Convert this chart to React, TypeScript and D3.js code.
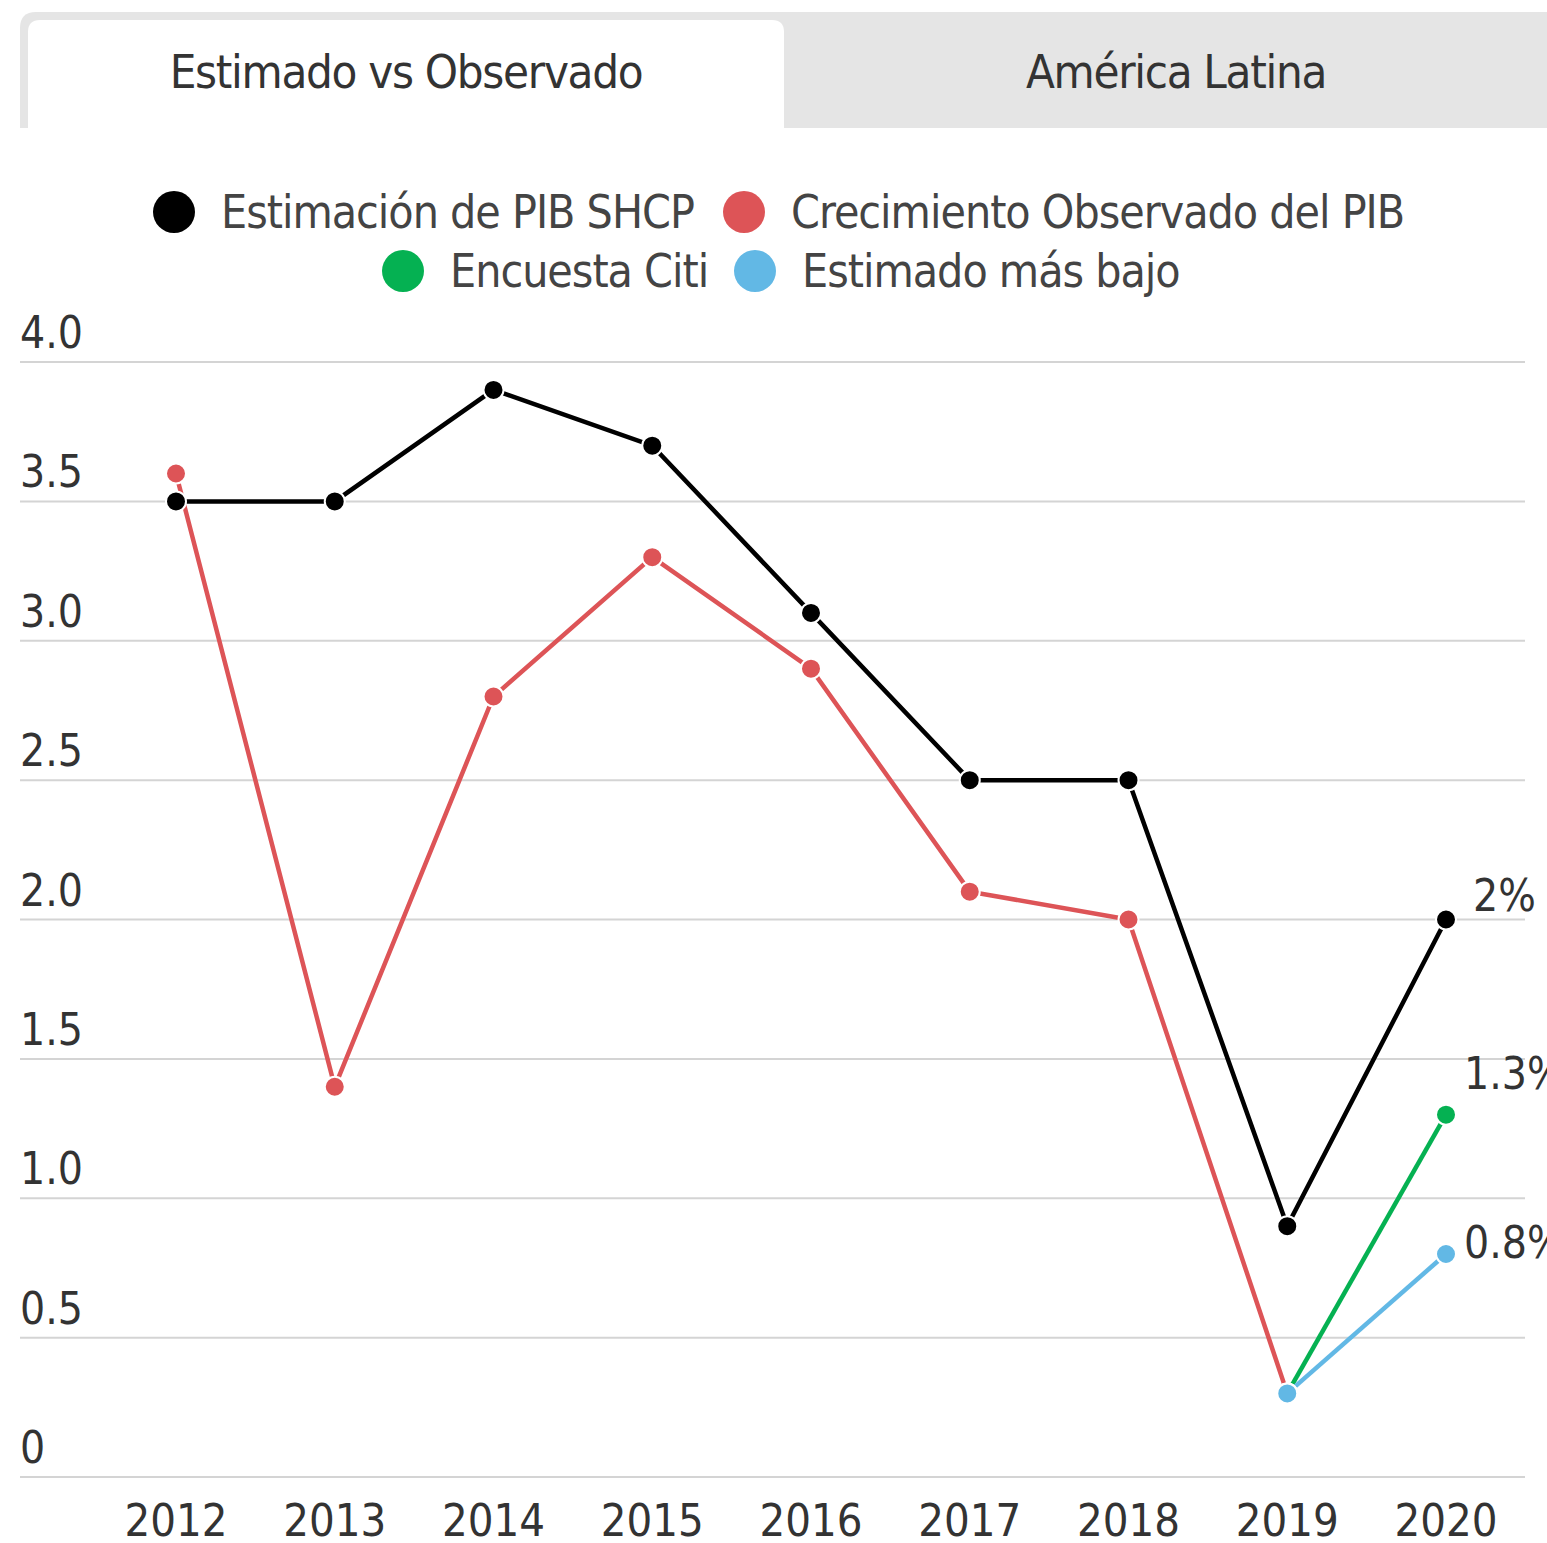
import React from "react";
import * as d3 from "d3";

const years = [2012, 2013, 2014, 2015, 2016, 2017, 2018, 2019, 2020];
const shcp = [3.5, 3.5, 3.9, 3.7, 3.1, 2.5, 2.5, 0.9, 2.0];
const observed: (number | null)[] = [3.6, 1.4, 2.8, 3.3, 2.9, 2.1, 2.0, 0.3, null];
const citi: (number | null)[] = [null, null, null, null, null, null, null, 0.3, 1.3];
const lowest: (number | null)[] = [null, null, null, null, null, null, null, 0.3, 0.8];
const yTicks = [0, 0.5, 1.0, 1.5, 2.0, 2.5, 3.0, 3.5, 4.0];
const tabs = ["Estimado vs Observado", "América Latina"];
const endLabels = [
  { text: "2%", value: 2.0, dx: 27, dy: -9 },
  { text: "1.3%", value: 1.3, dx: 18, dy: -26 },
  { text: "0.8%", value: 0.8, dx: 18, dy: 4 },
];

const series = [
  { name: "Estimación de PIB SHCP", color: "#000000", values: shcp as (number | null)[], r: 10 },
  { name: "Crecimiento Observado del PIB", color: "#dd5457", values: observed, r: 10 },
  { name: "Encuesta Citi", color: "#05b152", values: citi, r: 10 },
  { name: "Estimado más bajo", color: "#62b8e5", values: lowest, r: 10 },
];

const FONT = "'Liberation Sans Narrow', 'DejaVu Sans Condensed', 'Open Sans', sans-serif";

export default function App() {
  const W = 1547, H = 1543;
  const x = d3.scalePoint<number>().domain(years).range([176, 1446]);
  const y = d3.scaleLinear().domain([0, 4]).range([1477, 362]);
  const line = d3
    .line<{ yr: number; v: number | null }>()
    .defined((d) => d.v != null)
    .x((d) => x(d.yr)!)
    .y((d) => y(d.v as number));

  const legendRows = [
    [series[0], series[1]],
    [series[2], series[3]],
  ];
  const legendX = [[174, 744], [403, 755]];
  const legendY = [212, 271];

  return (
    <svg width={W} height={H} style={{ position: "absolute", left: 0, top: 0, background: "#fff" }} fontFamily={FONT}>
      {/* tabs */}
      <path d="M20,128 V28 Q20,12 36,12 H1547 V128 Z" fill="#e5e5e5" />
      <path d="M28,128 V32 Q28,20 40,20 H772 Q784,20 784,32 V128 Z" fill="#ffffff" />
      <text x={406} y={88} textAnchor="middle" fontSize={47} letterSpacing={-1.3} fill="#333">{tabs[0]}</text>
      <text x={1176} y={88} textAnchor="middle" fontSize={47} letterSpacing={-1.3} fill="#333">{tabs[1]}</text>

      {/* legend */}
      {legendRows.map((row, ri) =>
        row.map((s, si) => (
          <g key={s.name} transform={`translate(${legendX[ri][si]},${legendY[ri]})`}>
            <circle r={21} fill={s.color} />
            <text x={47} y={16} fontSize={46} letterSpacing={-1} fill="#444">{s.name}</text>
          </g>
        ))
      )}

      {/* grid */}
      {yTicks.map((t) => (
        <g key={t}>
          <line x1={20} x2={1525} y1={y(t)} y2={y(t)} stroke="#d4d4d4" strokeWidth={2} />
          <text x={20} y={y(t) - 14} fontSize={44} fill="#333">
            {t === 0 ? "0" : d3.format(".1f")(t)}
          </text>
        </g>
      ))}

      {/* x labels */}
      {years.map((yr) => (
        <text key={yr} x={x(yr)} y={1536} textAnchor="middle" fontSize={45} fill="#333">{yr}</text>
      ))}

      {/* lines */}
      {series.map((s) => (
        <path
          key={s.name}
          d={line(years.map((yr, i) => ({ yr, v: s.values[i] }))) || ""}
          fill="none"
          stroke={s.color}
          strokeWidth={4.5}
        />
      ))}
      {/* points */}
      {series.map((s) =>
        years.map((yr, i) =>
          s.values[i] == null ? null : (
            <circle
              key={s.name + yr}
              cx={x(yr)}
              cy={y(s.values[i] as number)}
              r={s.r}
              fill={s.color}
              stroke="#fff"
              strokeWidth={2}
            />
          )
        )
      )}

      {/* end labels */}
      {endLabels.map((l) => (
        <text key={l.text} x={x(2020)! + l.dx} y={y(l.value) + l.dy} fontSize={44} fill="#333">{l.text}</text>
      ))}
    </svg>
  );
}
